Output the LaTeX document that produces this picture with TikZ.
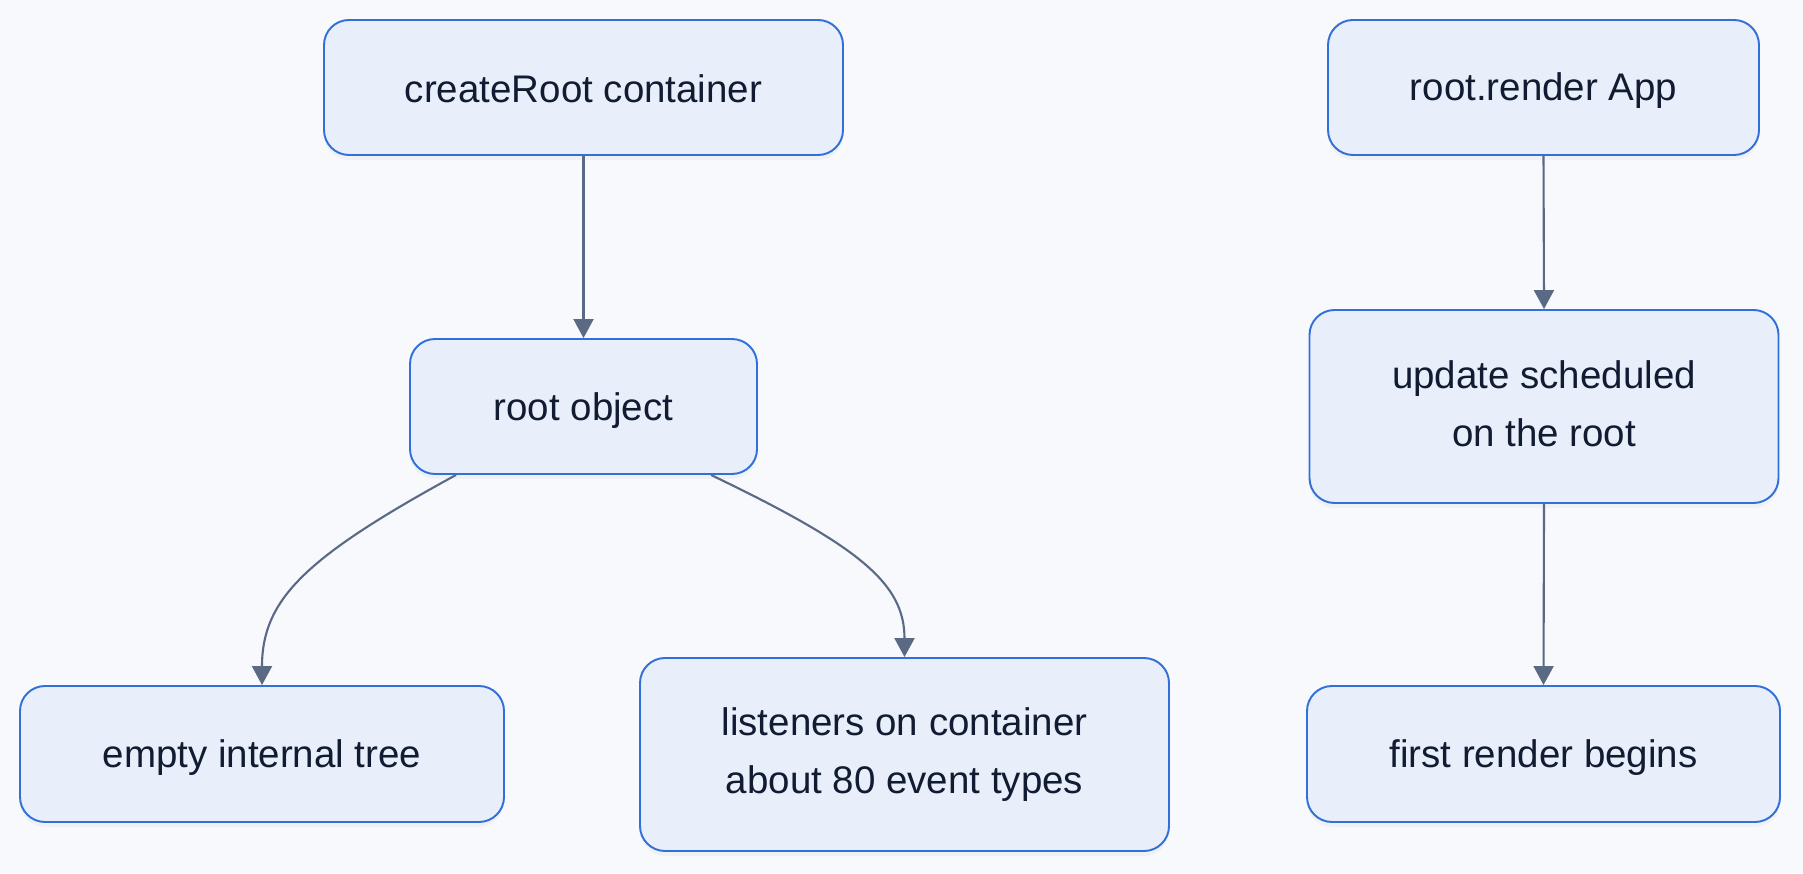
\documentclass[tikz,border=0pt]{standalone}
\usepackage{fontspec}
\setmainfont{Liberation Sans}
\usepackage{tikz}
\usetikzlibrary{arrows.meta,shadows}
\definecolor{bgpaper}{HTML}{F7F9FD}
\definecolor{boxfill}{HTML}{E8EFFA}
\definecolor{boxline}{HTML}{3170D9}
\definecolor{edgegray}{HTML}{5A6A85}
\definecolor{inkdark}{HTML}{111C33}
\newcommand{\boxstrut}{\rule[-0.1cm]{0pt}{0.8cm}}

\begin{document}
\begin{tikzpicture}[
    box/.style={rectangle, rounded corners=0.5cm, draw=boxline, fill=boxfill,
                line width=1.1pt, align=center, text=inkdark,
                font=\fontsize{21.9pt}{33pt}\selectfont,
                execute at begin node=\boxstrut, execute at end node=\boxstrut,
                drop shadow={opacity=0.06, shadow xshift=0pt, shadow yshift=-0.1cm}},
    arrow/.style={-{Triangle[width=0.4cm, length=0.38cm]}, line width=1.2pt, color=edgegray}
  ]
    \useasboundingbox[fill=bgpaper] (0,0) rectangle (36.06,17.46);

    \node[box, minimum width=10.38cm, minimum height=2.7cm]  (cr)  at (11.67,15.71) {createRoot container};
    \node[box, minimum width=6.94cm,  minimum height=2.7cm]  (ro)  at (11.67,9.33)  {root object};
    \node[box, minimum width=9.68cm,  minimum height=2.72cm] (eit) at (5.24,2.38)   {empty internal tree};
    \node[box, minimum width=10.58cm, minimum height=3.86cm] (lis) at (18.09,2.37)  {listeners on container\\about 80 event types};

    \node[box, minimum width=8.62cm,  minimum height=2.7cm]  (rr)  at (30.87,15.71) {root.render App};
    \node[box, minimum width=9.38cm,  minimum height=3.86cm] (us)  at (30.88,9.33)  {update scheduled\\on the root};
    \node[box, minimum width=9.46cm,  minimum height=2.72cm] (frb) at (30.87,2.38)  {first render begins};

    \draw[arrow] (cr.south) -- (ro.north);
    \draw[arrow] ([xshift=-2.55cm]ro.south) .. controls +(-3.0,-1.64) and +(0,1.72) .. (eit.north);
    \draw[arrow] ([xshift=2.55cm]ro.south)  .. controls +(3.0,-1.44) and +(0,1.46) .. (lis.north);

    \draw[arrow] (rr.south) -- (us.north);
    \draw[arrow] (us.south) -- (frb.north);
  \end{tikzpicture}
\end{document}
